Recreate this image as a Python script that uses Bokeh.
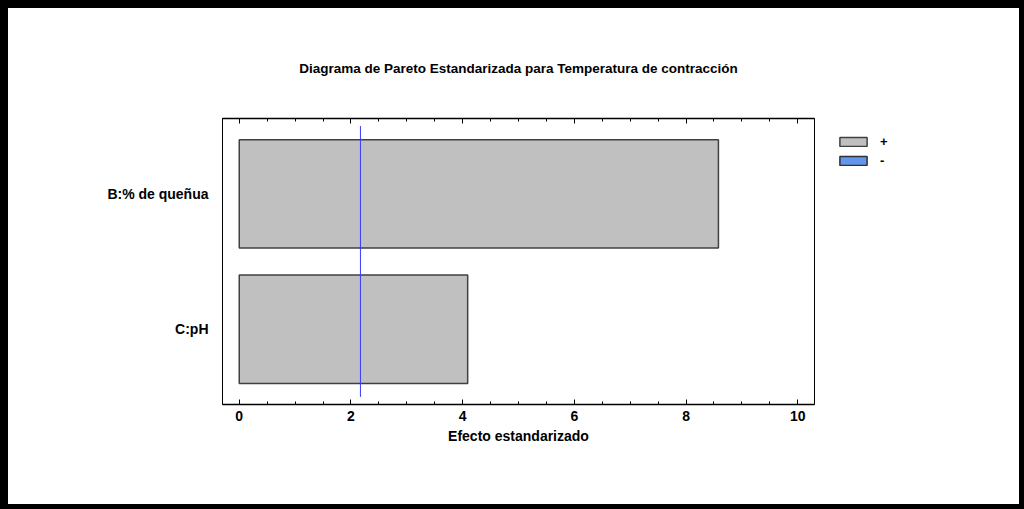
from bokeh.plotting import figure
from bokeh.layouts import column, row
from bokeh.models import (Range1d, FactorRange, LinearAxis, SingleIntervalTicker,
                          Legend, LegendItem, ColumnDataSource)
from bokeh.embed import file_html
from bokeh.resources import INLINE

# ---- data ----
factors = ["C:pH", "B:% de queñua"]
effects = [4.09, 8.58]
critical_t = 2.17
legend_labels = ["+", "-"]
title_text = "Diagrama de Pareto Estandarizada para Temperatura de contracción"
x_label = "Efecto estandarizado"

FONT = "Liberation Sans"
BAR_FILL = ["#C0C0C0", "#6495ED"]

p = figure(frame_width=592, frame_height=286, output_backend="svg", toolbar_location=None,
           x_range=Range1d(-0.3, 10.3),
           y_range=FactorRange(factors=factors, range_padding=0.056),
           min_border_left=214, min_border_right=2,
           min_border_top=110, min_border_bottom=100,
           x_axis_location=None)

p.xgrid.visible = False
p.ygrid.visible = False
p.outline_line_color = "black"
p.outline_line_width = 1
p.background_fill_color = "white"
p.border_fill_color = "white"

# bars
src = ColumnDataSource(dict(y=factors, right=effects))
p.hbar(y="y", right="right", left=0, height=0.8, source=src,
       fill_color=BAR_FILL[0], line_color="#404040", line_width=1.5)

# critical line
p.segment(x0=[critical_t], x1=[critical_t], y0=[(factors[0], -0.5)],
          y1=[(factors[-1], 0.5)], line_color="#3A3AFF", line_width=1)

# axes
ticker = SingleIntervalTicker(interval=2, num_minor_ticks=4)
for loc in ["below", "above"]:
    ax = LinearAxis(ticker=ticker)
    ax.axis_line_color = "black"
    ax.axis_line_width = 1.5
    ax.major_tick_in = 5
    ax.major_tick_out = 0
    ax.minor_tick_in = 3
    ax.minor_tick_out = 0
    ax.major_tick_line_color = "black"
    ax.minor_tick_line_color = "black"
    ax.major_label_text_font = FONT
    ax.major_label_text_font_style = "bold"
    ax.major_label_text_font_size = "14px"
    ax.major_label_text_color = "black"
    if loc == "below":
        ax.axis_label = x_label
        ax.axis_label_text_font = FONT
        ax.axis_label_text_font_style = "bold"
        ax.axis_label_text_font_size = "14px"
        ax.axis_label_text_color = "black"
        ax.major_label_standoff = 6
        ax.axis_label_standoff = 4
    else:
        ax.major_label_text_font_size = "0px"
        ax.major_label_text_color = None
    p.add_layout(ax, loc)

yax = p.yaxis[0]
yax.axis_line_color = "black"
yax.axis_line_width = 1
yax.major_tick_in = 0
yax.major_tick_out = 0
yax.minor_tick_in = 0
yax.minor_tick_out = 0
yax.major_label_text_font = FONT
yax.major_label_text_font_style = "bold"
yax.major_label_text_font_size = "14px"
yax.major_label_text_color = "black"
yax.major_label_standoff = 14

# title
p.title.text = title_text
p.title.align = "center"
p.title.text_font = FONT
p.title.text_font_style = "bold"
p.title.text_font_size = "13.5px"
p.title.text_color = "black"
p.title.standoff = 86

# legend panel (separate small figure to the right of the chart)
q = figure(width=203, height=496, output_backend="svg", toolbar_location=None,
           x_range=Range1d(0, 1), y_range=Range1d(0, 1),
           min_border=0, x_axis_location=None, y_axis_location=None)
q.xgrid.visible = False
q.ygrid.visible = False
q.grid.visible = False
q.outline_line_color = None
q.background_fill_color = "white"
q.border_fill_color = "white"
pos = q.hbar(y=[float("nan")], right=[float("nan")], left=[float("nan")], height=0.1,
             fill_color=BAR_FILL[0], line_color="#404040", line_width=1.5)
neg = q.hbar(y=[float("nan")], right=[float("nan")], left=[float("nan")], height=0.1,
             fill_color=BAR_FILL[1], line_color="#303030", line_width=1.5)
legend = Legend(items=[LegendItem(label=legend_labels[0], renderers=[pos]),
                       LegendItem(label=legend_labels[1], renderers=[neg])],
                location=(20, 236), orientation="vertical",
                glyph_width=34, glyph_height=11, label_height=11,
                spacing=4, label_standoff=10, padding=0, margin=0,
                border_line_color=None, background_fill_alpha=0,
                label_text_font=FONT, label_text_font_style="bold",
                label_text_font_size="13px", label_text_color="black")
q.add_layout(legend, "center")

page = column(row(p, q, styles={"background-color": "white"}),
              styles={"background-color": "black",
                      "padding": "8px 5px 5px 8px"})

open("out.html", "w").write(file_html(page, INLINE))
